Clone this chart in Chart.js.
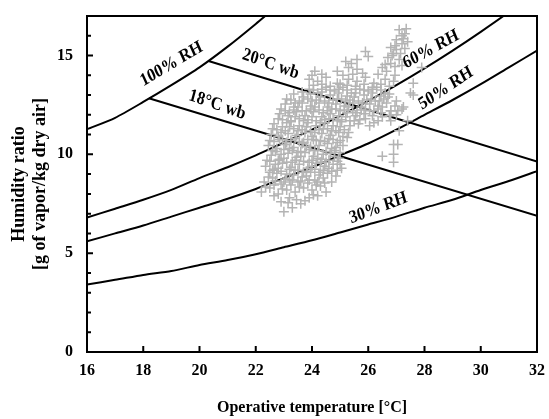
<!DOCTYPE html>
<html lang="en">
<head>
  <meta charset="UTF-8">
  <title>Humidity ratio vs operative temperature</title>
  <script src="https://cdn.jsdelivr.net/npm/chart.js"></script>
  <style>
    body {
      margin: 0;
      background: #ffffff;
    }

    .chart-container {
      width: 549px;
      height: 419px;
    }
  </style>
</head>
<body>

  <div class="chart-container">
    <canvas id="psychroChart"></canvas>
  </div>

  <script>
    // dry-bulb grid for the constant RH curves
    const temps = [16, 17, 18, 19, 20, 21, 22, 23, 24, 25, 26, 27, 28, 29, 30, 31, 32];
    const rh60 = [6.8, 7.25, 7.7, 8.2, 8.8, 9.35, 9.95, 10.6, 11.25, 11.95, 12.7, 13.5, 14.35, 15.25, 16.2, 17.2, 18.3];
    const rh50 = [5.6, 6.0, 6.4, 6.85, 7.3, 7.75, 8.25, 8.8, 9.35, 9.95, 10.55, 11.25, 12.0, 12.75, 13.55, 14.4, 15.25];
    const rh30 = [3.42, 3.65, 3.9, 4.1, 4.4, 4.65, 4.95, 5.3, 5.65, 6.05, 6.45, 6.85, 7.3, 7.7, 8.2, 8.65, 9.15];

    // saturation curve
    const satTemps = [16, 17, 18, 19, 20, 21, 22, 23];
    const rh100 = [11.27, 11.85, 12.65, 13.5, 14.4, 15.45, 16.6, 17.8];

    // wet-bulb lines, from the saturation curve to the right edge
    const wb20Temps = [20.32, 32];
    const wb20 = [14.72, 9.64];
    const wb18Temps = [18.2, 32];
    const wb18 = [12.84, 6.89];

    const xTicks = [16, 18, 20, 22, 24, 26, 28, 30, 32];
    const yTicks = [0, 5, 10, 15];

    // measured points [operative temperature, humidity ratio]
    const readings = [
      [23.0, 7.1], [23.3, 7.3], [22.9, 7.6], [23.6, 7.5], [23.2, 7.8], [23.9, 7.8], [24.2, 7.9],
      [23.15, 7.55], [23.45, 7.7], [23.75, 7.65], [24.05, 7.95], [22.65, 7.9],
      [22.2, 8.1], [22.5, 8.3], [22.8, 8.0], [23.1, 8.2], [23.4, 8.1], [23.7, 8.3], [24.0, 8.2], [24.3, 8.4], [24.5, 8.1],
      [22.35, 8.35], [22.65, 8.45], [22.95, 8.25], [23.25, 8.45], [23.55, 8.35], [23.85, 8.55], [24.15, 8.45], [24.45, 8.55],
      [22.3, 8.6], [22.6, 8.8], [22.9, 8.5], [23.2, 8.7], [23.5, 8.6], [23.8, 8.9], [24.1, 8.7], [24.4, 8.8], [24.7, 8.6],
      [22.7, 8.65], [23.0, 8.6], [23.3, 8.7], [23.6, 8.65], [23.9, 8.7], [24.2, 8.6],
      [22.45, 8.85], [22.75, 9.05], [23.05, 8.75], [23.35, 8.95], [23.65, 8.85], [23.95, 9.1], [24.25, 8.95], [24.55, 9.05], [24.85, 8.9],
      [22.5, 9.1], [22.8, 9.3], [23.1, 9.0], [23.4, 9.2], [23.7, 9.1], [24.0, 9.4], [24.3, 9.1], [24.6, 9.3], [24.9, 9.2],
      [22.6, 9.2], [22.9, 9.15], [23.2, 9.25], [23.5, 9.2], [23.8, 9.15], [24.1, 9.25], [24.4, 9.2], [24.7, 9.15],
      [22.35, 9.4], [22.65, 9.25], [22.95, 9.55], [23.25, 9.35], [23.55, 9.5], [23.85, 9.3], [24.15, 9.55], [24.45, 9.4], [24.75, 9.5], [25.05, 9.3],
      [22.4, 9.7], [22.7, 9.5], [23.0, 9.8], [23.3, 9.6], [23.6, 9.9], [23.9, 9.6], [24.2, 9.8], [24.5, 9.6], [24.8, 9.9], [25.0, 9.5],
      [22.5, 9.65], [22.8, 9.7], [23.1, 9.6], [23.4, 9.7], [23.7, 9.65], [24.0, 9.7], [24.3, 9.6], [24.6, 9.7], [24.9, 9.65],
      [22.55, 9.95], [22.85, 9.75], [23.15, 10.05], [23.45, 9.85], [23.75, 10.1], [24.05, 9.9], [24.35, 9.75], [24.65, 10.05], [24.95, 9.8],
      [22.6, 10.2], [22.9, 10.0], [23.2, 10.3], [23.5, 10.1], [23.8, 10.4], [24.1, 10.2], [24.4, 10.0], [24.7, 10.3], [25.0, 10.1],
      [22.7, 10.15], [23.0, 10.25], [23.3, 10.2], [23.6, 10.15], [23.9, 10.25], [24.2, 10.2], [24.5, 10.15], [24.8, 10.2],
      [22.45, 10.45], [22.75, 10.3], [23.05, 10.5], [23.35, 10.35], [23.65, 10.55], [23.95, 10.4], [24.25, 10.45], [24.55, 10.55], [24.85, 10.35], [25.1, 10.45],
      [22.5, 10.7], [22.8, 10.9], [23.1, 10.6], [23.4, 10.8], [23.7, 10.6], [24.0, 10.9], [24.3, 10.7], [24.6, 10.8], [24.9, 10.6], [25.1, 10.9],
      [22.65, 10.65], [22.95, 10.75], [23.25, 10.7], [23.55, 10.65], [23.85, 10.75], [24.15, 10.7], [24.45, 10.65], [24.75, 10.75], [25.0, 10.7],
      [22.55, 11.0], [22.85, 10.75], [23.15, 11.05], [23.45, 10.95], [23.75, 11.1], [24.05, 10.75], [24.35, 11.05], [24.65, 10.95], [24.95, 11.1], [25.25, 10.85],
      [22.6, 11.3], [22.9, 11.1], [23.2, 11.4], [23.5, 11.2], [23.8, 11.4], [24.1, 11.1], [24.4, 11.3], [24.7, 11.2], [25.0, 11.4], [25.3, 11.1],
      [22.75, 11.25], [23.05, 11.2], [23.35, 11.3], [23.65, 11.25], [23.95, 11.2], [24.25, 11.25], [24.55, 11.3], [24.85, 11.2], [25.15, 11.25],
      [22.65, 11.55], [22.95, 11.4], [23.25, 11.65], [23.55, 11.45], [23.85, 11.6], [24.15, 11.45], [24.45, 11.6], [24.75, 11.45], [25.05, 11.65],
      [25.35, 11.45], [25.65, 11.55], [26.05, 11.45], [26.35, 11.7],
      [22.95, 11.75], [23.25, 11.7], [23.55, 11.8], [23.85, 11.75], [24.15, 11.7], [24.45, 11.75], [24.75, 11.8], [25.05, 11.75], [25.35, 11.7], [25.7, 11.75],
      [22.8, 11.8], [23.1, 11.6], [23.4, 11.9], [23.7, 11.7], [24.0, 11.9], [24.3, 11.6], [24.6, 11.8], [24.9, 11.7], [25.2, 11.9], [25.5, 11.7],
      [25.9, 11.8], [26.2, 11.6], [26.5, 11.9], [26.8, 11.7], [27.0, 12.0],
      [22.85, 12.05], [23.15, 11.95], [23.45, 12.15], [23.75, 11.95], [24.05, 12.15], [24.35, 11.9], [24.65, 12.05], [24.95, 11.95], [25.25, 12.1],
      [25.55, 11.95], [25.85, 12.05], [26.15, 11.95], [26.45, 12.1], [26.75, 11.95], [27.05, 12.2],
      [23.05, 12.2], [23.35, 12.25], [23.65, 12.2], [23.95, 12.3], [24.25, 12.25], [24.55, 12.2], [24.85, 12.3], [25.15, 12.25], [25.45, 12.2],
      [25.75, 12.25], [26.05, 12.2], [26.35, 12.3],
      [22.9, 12.3], [23.2, 12.1], [23.5, 12.4], [23.8, 12.2], [24.1, 12.4], [24.4, 12.1], [24.7, 12.3], [25.0, 12.2], [25.3, 12.4], [25.6, 12.1],
      [25.9, 12.3], [26.2, 12.2], [26.5, 12.4], [26.8, 12.2], [27.2, 12.3],
      [23.05, 12.55], [23.35, 12.4], [23.65, 12.6], [23.95, 12.45], [24.25, 12.6], [24.55, 12.4], [24.85, 12.55], [25.15, 12.45], [25.45, 12.6],
      [25.75, 12.4], [26.05, 12.55], [26.35, 12.45], [26.65, 12.6], [26.95, 12.45],
      [23.25, 12.75], [23.55, 12.7], [23.85, 12.8], [24.15, 12.75], [24.45, 12.7], [24.75, 12.75], [25.05, 12.8], [25.35, 12.75], [25.65, 12.7],
      [25.95, 12.75], [26.25, 12.7], [26.55, 12.8],
      [23.1, 12.8], [23.4, 12.6], [23.7, 12.9], [24.0, 12.7], [24.3, 12.9], [24.6, 12.6], [24.9, 12.8], [25.2, 12.7], [25.5, 12.9], [25.8, 12.6],
      [26.1, 12.8], [26.4, 12.7], [26.7, 12.9], [27.0, 12.7], [27.5, 13.1],
      [23.35, 13.05], [23.65, 13.15], [23.95, 13.05], [24.35, 13.15], [24.65, 13.0], [24.95, 13.1], [25.25, 12.95], [25.55, 13.1], [25.85, 13.0],
      [26.15, 13.1], [26.45, 12.95], [26.75, 13.05],
      [24.05, 13.25], [24.35, 13.3], [24.65, 13.25], [24.95, 13.3], [25.25, 13.25], [25.55, 13.3], [25.85, 13.25], [26.15, 13.3], [26.45, 13.25],
      [23.9, 13.3], [24.2, 13.1], [24.5, 13.4], [24.8, 13.2], [25.1, 13.4], [25.4, 13.1], [25.7, 13.3], [26.0, 13.2], [26.3, 13.4], [26.6, 13.1], [27.6, 13.6],
      [24.05, 13.5], [24.35, 13.55], [24.65, 13.45], [25.0, 13.55], [25.25, 13.5], [25.55, 13.45], [25.85, 13.55], [26.15, 13.4], [26.45, 13.55], [26.75, 13.45],
      [23.9, 13.8], [24.2, 13.7], [24.5, 13.9], [24.9, 13.6], [25.3, 13.8], [25.6, 13.7], [25.9, 13.9], [26.2, 13.6], [26.6, 13.8], [26.9, 13.7],
      [24.0, 14.0], [24.35, 14.05], [25.1, 14.0], [25.45, 14.05], [25.8, 14.1], [26.35, 14.05], [26.65, 14.2], [26.95, 14.0],
      [24.1, 14.2], [24.9, 14.2], [25.3, 14.4], [25.6, 14.3], [26.5, 14.4], [26.8, 14.6], [27.9, 14.4],
      [25.4, 14.6], [26.6, 14.55], [26.95, 14.45], [27.2, 14.5],
      [25.2, 14.7], [25.6, 14.8], [26.7, 14.9], [26.9, 15.1], [27.1, 14.8],
      [26.0, 14.95], [26.85, 15.0], [27.15, 15.1],
      [25.9, 15.2], [26.8, 15.4], [27.0, 15.3], [27.2, 15.6], [26.95, 15.5], [27.3, 15.35],
      [27.0, 15.8], [27.2, 16.0], [27.4, 15.7], [27.1, 16.3], [27.3, 16.1], [27.25, 15.85], [27.35, 16.35],
      [26.5, 9.9], [26.9, 10.5], [26.9, 10.0], [26.9, 9.6], [27.05, 10.5], [27.1, 11.2], [27.4, 11.7], [26.8, 12.2], [27.25, 12.4], [27.6, 13.0]
    ];

    const serif = '"Liberation Serif", "Times New Roman", serif';

    function toPoints(xs, ys) {
      return xs.map((t, i) => ({ x: t, y: ys[i] }));
    }

    function curve(xs, ys) {
      return {
        type: 'line',
        data: toPoints(xs, ys),
        borderColor: '#000000',
        borderWidth: 2,
        pointRadius: 0,
        tension: 0.25,
        order: 1
      };
    }

    // frame, inward ticks and the curve labels
    const framePlugin = {
      id: 'frame',
      afterDatasetsDraw(chart) {
        const { ctx, chartArea: a, scales: { x, y } } = chart;
        ctx.save();
        ctx.strokeStyle = '#000000';
        ctx.lineWidth = 2;
        ctx.strokeRect(a.left, a.top, a.right - a.left, a.bottom - a.top);

        ctx.beginPath();
        xTicks.slice(1, -1).forEach(v => {
          const px = x.getPixelForValue(v);
          ctx.moveTo(px, a.bottom);
          ctx.lineTo(px, a.bottom - 6);
        });
        for (let v = 1; v < 17; v++) {
          const py = y.getPixelForValue(v);
          ctx.moveTo(a.left, py);
          ctx.lineTo(a.left + (v % 5 === 0 ? 6 : 4), py);
        }
        ctx.stroke();

        const labels = [
          { text: '100% RH', x: 19.0, y: 14.56, angle: -31 },
          { text: '20\u00B0C wb', x: 22.53, y: 14.56, angle: 20 },
          { text: '18\u00B0C wb', x: 20.63, y: 12.5, angle: 19 },
          { text: '60% RH', x: 28.23, y: 15.31, angle: -29 },
          { text: '50% RH', x: 28.76, y: 13.34, angle: -34 },
          { text: '30% RH', x: 26.36, y: 7.28, angle: -21 }
        ];
        const stretch = 1.15;
        ctx.fillStyle = '#000000';
        ctx.font = 'bold 16px ' + serif;
        ctx.textAlign = 'center';
        ctx.textBaseline = 'middle';
        labels.forEach(l => {
          ctx.save();
          ctx.translate(x.getPixelForValue(l.x), y.getPixelForValue(l.y));
          ctx.scale(1, stretch);
          ctx.rotate(Math.atan(Math.tan(l.angle * Math.PI / 180) / stretch));
          ctx.fillText(l.text, 0, 0);
          ctx.restore();
        });
        ctx.restore();
      }
    };

    const ctx = document.getElementById('psychroChart').getContext('2d');

    new Chart(ctx, {
      type: 'scatter',
      data: {
        datasets: [
          {
            label: 'Measured',
            data: readings.map(r => ({ x: r[0], y: r[1] })),
            pointStyle: 'cross',
            pointRadius: 5,
            pointBorderWidth: 1.5,
            borderColor: '#b4b4b4',
            backgroundColor: '#b4b4b4',
            order: 0
          },
          curve(satTemps, rh100),
          curve(temps, rh60),
          curve(temps, rh50),
          curve(temps, rh30),
          curve(wb20Temps, wb20),
          curve(wb18Temps, wb18)
        ]
      },
      options: {
        responsive: true,
        maintainAspectRatio: false,
        animation: false,
        layout: {
          autoPadding: false,
          padding: { top: 16, right: 12, left: 0, bottom: 0 }
        },
        plugins: {
          legend: { display: false },
          tooltip: { enabled: false }
        },
        scales: {
          x: {
            type: 'linear',
            min: 16,
            max: 32,
            afterBuildTicks: s => { s.ticks = xTicks.map(v => ({ value: v })); },
            afterFit: s => { s.height = 67; s.paddingLeft = 0; s.paddingRight = 0; },
            grid: { display: false, drawTicks: false },
            border: { display: false },
            ticks: {
              color: '#000000',
              padding: 9,
              maxRotation: 0,
              font: { family: serif, size: 16, weight: 'bold' }
            },
            title: {
              display: true,
              text: 'Operative temperature [\u00B0C]',
              color: '#000000',
              padding: { top: 4, bottom: 2 },
              font: { family: serif, size: 16, weight: 'bold' }
            }
          },
          y: {
            type: 'linear',
            min: 0,
            max: 17,
            afterBuildTicks: s => { s.ticks = yTicks.map(v => ({ value: v })); },
            afterFit: s => { s.width = 87; s.paddingTop = 0; s.paddingBottom = 0; },
            grid: { display: false, drawTicks: false },
            border: { display: false },
            ticks: {
              color: '#000000',
              padding: 14,
              font: { family: serif, size: 16, weight: 'bold' }
            },
            title: {
              display: true,
              text: ['Humidity ratio', '[g of vapor/kg dry air]'],
              color: '#000000',
              padding: { top: 9, bottom: 4 },
              font: { family: serif, size: 18, weight: 'bold', lineHeight: 1.15 }
            }
          }
        }
      },
      plugins: [framePlugin]
    });
  </script>

</body>
</html>
